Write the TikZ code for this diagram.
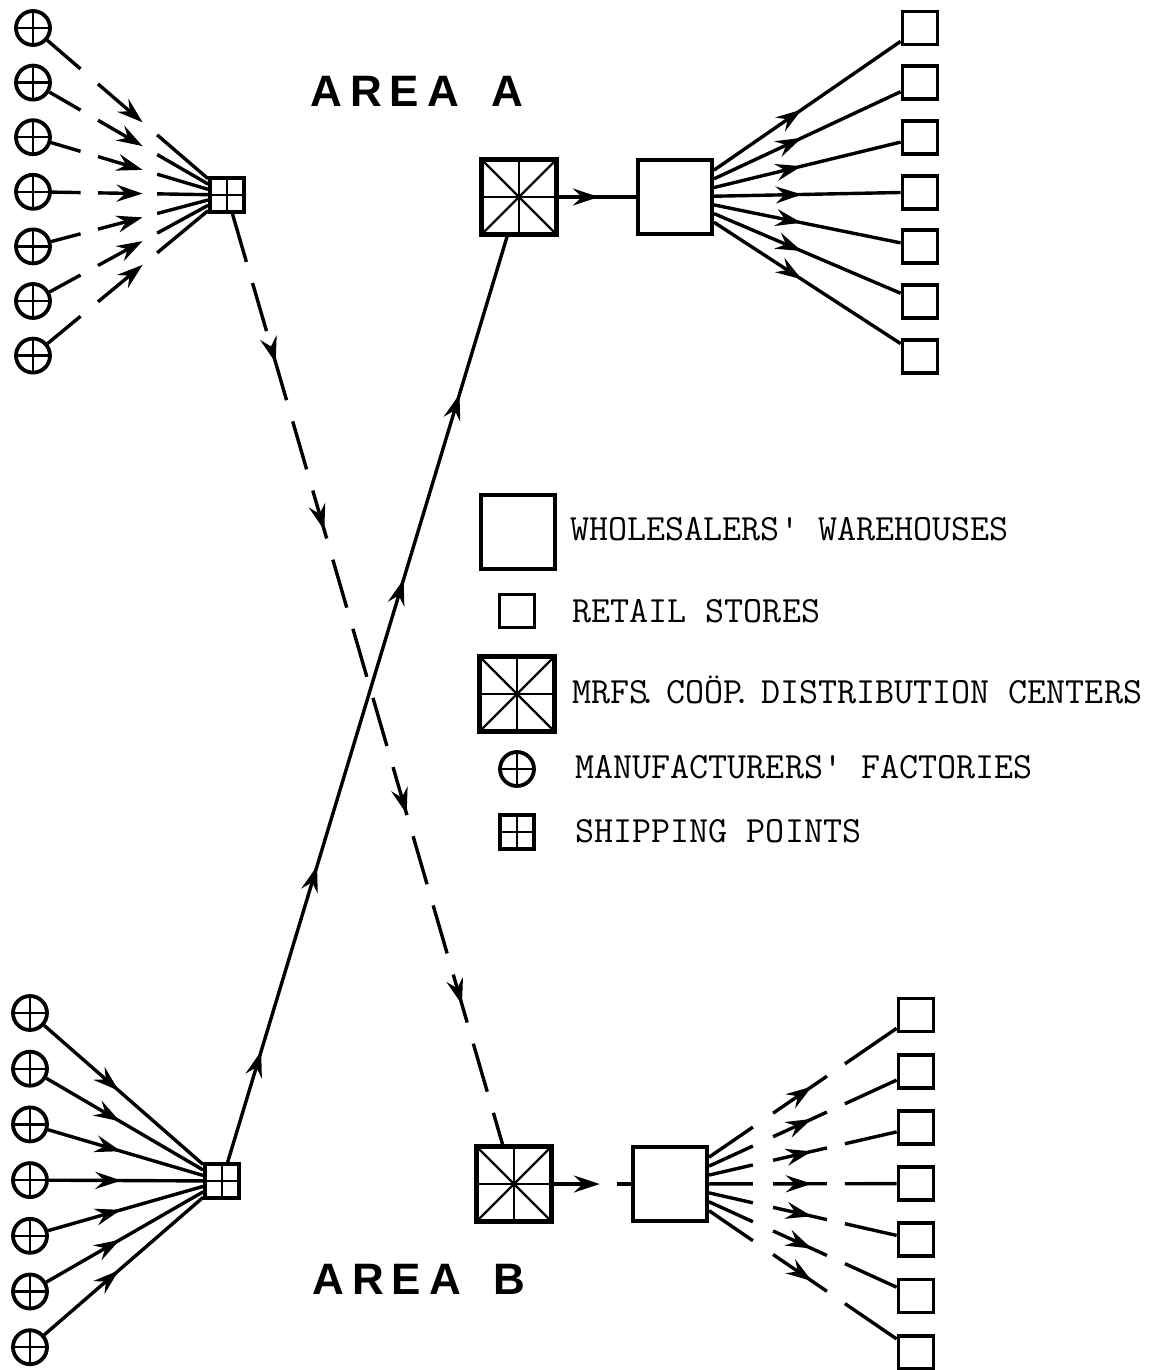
\documentclass[tikz,border=0pt]{standalone}
\usepackage{fontspec}
\newfontfamily\areafont{Liberation Sans}
\usetikzlibrary{arrows.meta,calc,decorations.markings}
\newcommand{\crosslines}{\draw[line width=1.2pt] (path picture bounding box.north) -- (path picture bounding box.south)
  (path picture bounding box.west) -- (path picture bounding box.east);}
\newcommand{\starlines}{\crosslines
  \draw[line width=1.2pt] (path picture bounding box.north west) -- (path picture bounding box.south east)
  (path picture bounding box.south west) -- (path picture bounding box.north east);}

\begin{document}
\begin{tikzpicture}[x=0.5pt,y=-0.5pt,
  >={Stealth[length=13pt,width=8.5pt,inset=4.5pt]},
  conn/.style={line width=1.7pt},
  midarrow/.style={postaction={decorate},decoration={markings,mark=at position #1 with {\arrow{>}}}},
  factory/.style={circle,draw,line width=1.9pt,inner sep=0pt,minimum size=17pt,path picture={\crosslines}},
  shippt/.style={rectangle,draw,line width=1.9pt,inner sep=0pt,minimum size=17pt,path picture={\crosslines}},
  distctr/.style={rectangle,draw,line width=2.2pt,inner sep=0pt,minimum size=37.5pt,path picture={\starlines}},
  whse/.style={rectangle,draw,line width=2pt,inner sep=0pt,minimum size=37pt},
  store/.style={rectangle,draw,line width=1.9pt,inner sep=0pt,minimum width=17.5pt,minimum height=16.5pt},
  legendtxt/.style={anchor=west,inner sep=0pt,text height=10.5pt,text depth=0pt,font=\ttfamily\fontsize{18.5}{20}\selectfont},
  areatxt/.style={anchor=west,inner sep=0pt,text height=16pt,text depth=0pt,font=\areafont\bfseries\fontsize{22}{24}\selectfont}]
\useasboundingbox (0,0) rectangle (1163,1370);

% main nodes
\node[shippt] (spa) at (227,195) {};
\node[shippt] (spb) at (222,1181) {};
\node[distctr] (dca) at (519,197) {};
\node[distctr] (dcb) at (514,1184) {};
\node[whse] (wha) at (675,197) {};
\node[whse] (whb) at (670,1184) {};
\foreach \i in {1,...,7} {
  \node[factory] (fa\i) at (33,{28+54.6*(\i-1)}) {};
  \node[factory] (fb\i) at (30,{1013+55.7*(\i-1)}) {};
  \node[store] (sa\i) at (920,{28+54.7*(\i-1)}) {};
  \node[store] (sb\i) at (916,{1015+56.2*(\i-1)}) {};
}

% area A: factories -> shipping point (broken), warehouse -> stores
\foreach \i in {1,...,7} {
  \draw[conn] (fa\i) -- ($(fa\i)!0.245!(spa)$);
  \draw[conn,->] ($(fa\i)!0.335!(spa)$) -- ($(fa\i)!0.565!(spa)$);
  \draw[conn] ($(fa\i)!0.64!(spa)$) -- (spa);
  \draw[conn,midarrow=0.47] (wha) -- (sa\i);
}
\draw[conn,midarrow=0.52] (dca) -- (wha);

% area B: factories -> shipping point, warehouse -> stores (broken)
\foreach \i in {1,...,7} {
  \draw[conn,midarrow=0.47] (fb\i) -- (spb);
  \draw[conn] (whb) -- ($(whb)!0.337!(sb\i)$);
  \draw[conn,midarrow=0.72] ($(whb)!0.419!(sb\i)$) -- ($(whb)!0.638!(sb\i)$);
  \draw[conn] ($(whb)!0.711!(sb\i)$) -- (sb\i);
}
\draw[conn,->] (dcb) -- ($(dcb)!0.55!(whb)$);
\draw[conn] ($(dcb)!0.66!(whb)$) -- (whb);

% cross shipments
\draw[conn,dash pattern=on 25pt off 11pt,postaction={decorate},
  decoration={markings,mark=at position 0.16 with {\arrow{>}},mark=at position 0.34 with {\arrow{>}},
    mark=at position 0.645 with {\arrow{>}},mark=at position 0.85 with {\arrow{>}}}] (spa) -- (dcb);
\draw[conn,postaction={decorate},
  decoration={markings,mark=at position 0.12 with {\arrow{>}},mark=at position 0.32 with {\arrow{>}},
    mark=at position 0.63 with {\arrow{>}},mark=at position 0.83 with {\arrow{>}}}] (spb) -- (dca);

% titles
\node[areatxt] (areaa) at (310,90) {A\kern4pt R\kern4pt E\kern4pt A\hspace{16pt}A};
\node[areatxt] (areab) at (312,1278) {A\kern4pt R\kern4pt E\kern4pt A\hspace{16pt}B};

% legend
\node[whse] (kwh) at (518,532) {};
\node[legendtxt] (twh) at (570,530) {WHOLESALERS' WAREHOUSES};
\node[store] (kst) at (517,611) {};
\node[legendtxt] (tst) at (572,612) {RETAIL STORES};
\node[distctr] (kdc) at (517,694) {};
\node[legendtxt] (tdc) at (572,693) {MRFS\kern-5pt.\kern-5pt{} CO\"OP\kern-5pt.\kern-5pt{} DISTRIBUTION CENTERS};
\node[factory] (kfa) at (517,769) {};
\node[legendtxt] (tfa) at (575,768) {MANUFACTURERS' FACTORIES};
\node[shippt] (ksp) at (517,832) {};
\node[legendtxt] (tsp) at (575,832) {SHIPPING POINTS};
\end{tikzpicture}
\end{document}
